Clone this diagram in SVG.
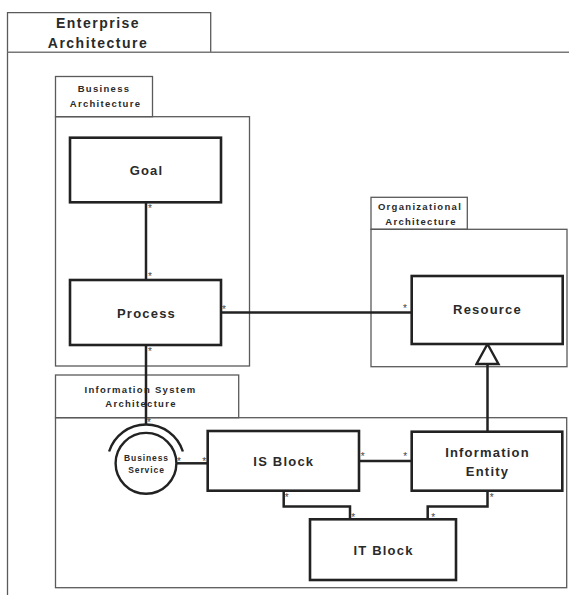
<svg xmlns="http://www.w3.org/2000/svg" width="569" height="595" viewBox="0 0 569 595">
<style>
.frame{fill:none;stroke:#5a5a5a;stroke-width:1.3}
.node{fill:#fff;stroke:#222;stroke-width:2.6}
.conn{fill:none;stroke:#222;stroke-width:2.5}
text{font-family:"Liberation Sans",Arial,sans-serif;font-weight:bold;fill:#2a2a2a;text-anchor:middle}
.big{font-size:14px;letter-spacing:1.5px}
.lbl{font-size:13px;letter-spacing:1.2px}
.tab{font-size:9.5px;letter-spacing:1.3px}
.svc{font-size:8.5px;letter-spacing:0.9px}
.star{font-size:10px;font-weight:normal;fill:#444}
</style>
<defs>
<marker id="gen" markerUnits="userSpaceOnUse" markerWidth="26" markerHeight="26" refX="24" refY="13" orient="auto" viewBox="0 0 26 26">
<path d="M24,13 L4,2 L4,24 Z" fill="#fff" stroke="#222" stroke-width="2.4"/>
</marker>
</defs>
<g id="enterprise-architecture">
<path class="frame" d="M7.5,595 V12.7 H210.7 V52.3"/>
<line x1="7.5" y1="52.3" x2="569" y2="52.3" stroke="#777" stroke-width="1.6"/>
<text class="big" x="98" y="28.3">Enterprise</text>
<text class="big" x="98" y="48.3">Architecture</text>
</g>
<g id="business-architecture">
<rect class="frame" x="55.5" y="76.5" width="97" height="40.2"/>
<rect class="frame" x="55.5" y="116.7" width="194" height="249.3"/>
<text class="tab" x="104" y="92.3">Business</text>
<text class="tab" x="105.5" y="107.3">Architecture</text>
</g>
<g id="organizational-architecture">
<rect class="frame" x="371" y="197.3" width="96.3" height="32"/>
<rect class="frame" x="371" y="229.3" width="196" height="137.4"/>
<text class="tab" x="420" y="210">Organizational</text>
<text class="tab" x="421" y="224.7">Architecture</text>
</g>
<g id="information-system-architecture">
<rect class="frame" x="55.5" y="375" width="183.2" height="42.7"/>
<rect class="frame" x="55.5" y="417.7" width="511.2" height="170"/>
<text class="tab" x="140.5" y="393.3">Information System</text>
<text class="tab" x="141" y="407.3">Architecture</text>
</g>
<g id="connectors">
<path class="conn" d="M146,202.3 V280"/>
<path class="conn" d="M221,312.5 H411.7"/>
<path class="conn" d="M487.5,431.7 V344" marker-end="url(#gen)"/>
<path class="conn" d="M146,345 V424.6"/>
<path class="conn" d="M176.5,463.3 H207.7"/>
<path class="conn" d="M359,461 H411.7"/>
<path class="conn" d="M283.7,490.7 V506.5 H350 V519.3"/>
<path class="conn" d="M487.5,490.7 V506.5 H427.7 V519.3"/>
<text class="star" x="150" y="211.7">*</text>
<text class="star" x="150" y="280">*</text>
<text class="star" x="224" y="313">*</text>
<text class="star" x="405" y="312">*</text>
<text class="star" x="150" y="355">*</text>
<text class="star" x="149" y="425.6">*</text>
<text class="star" x="179" y="464.6">*</text>
<text class="star" x="204.3" y="464.6">*</text>
<text class="star" x="362.7" y="460">*</text>
<text class="star" x="405.3" y="460">*</text>
<text class="star" x="286.7" y="500.6">*</text>
<text class="star" x="353.3" y="520.6">*</text>
<text class="star" x="491.7" y="500.6">*</text>
<text class="star" x="433.3" y="520.6">*</text>
</g>
<g id="goal">
<rect class="node" x="70" y="137.7" width="151" height="64.6"/>
<text class="lbl" x="146.5" y="175">Goal</text>
</g>
<g id="process">
<rect class="node" x="70" y="280" width="151" height="65"/>
<text class="lbl" x="146.5" y="318">Process</text>
</g>
<g id="resource">
<rect class="node" x="411.7" y="276" width="151" height="68"/>
<text class="lbl" x="487.5" y="314">Resource</text>
</g>
<g id="business-service">
<path d="M109.1,451.5 A38.7,38.7 0 0 1 182.9,451.5" fill="none" stroke="#222" stroke-width="2.4"/>
<circle cx="146" cy="463.3" r="30.4" fill="#fff" stroke="#222" stroke-width="2.4"/>
<text class="svc" x="146.5" y="460.7">Business</text>
<text class="svc" x="146.5" y="473.3">Service</text>
</g>
<g id="is-block">
<rect class="node" x="207.7" y="431" width="151.3" height="59.7"/>
<text class="lbl" x="283.8" y="466">IS Block</text>
</g>
<g id="information-entity">
<rect class="node" x="411.7" y="431.7" width="150.6" height="59"/>
<text class="lbl" x="487.5" y="456.7">Information</text>
<text class="lbl" x="487.5" y="476">Entity</text>
</g>
<g id="it-block">
<rect class="node" x="310" y="519.3" width="146" height="60.7"/>
<text class="lbl" x="383.5" y="555">IT Block</text>
</g>
</svg>
